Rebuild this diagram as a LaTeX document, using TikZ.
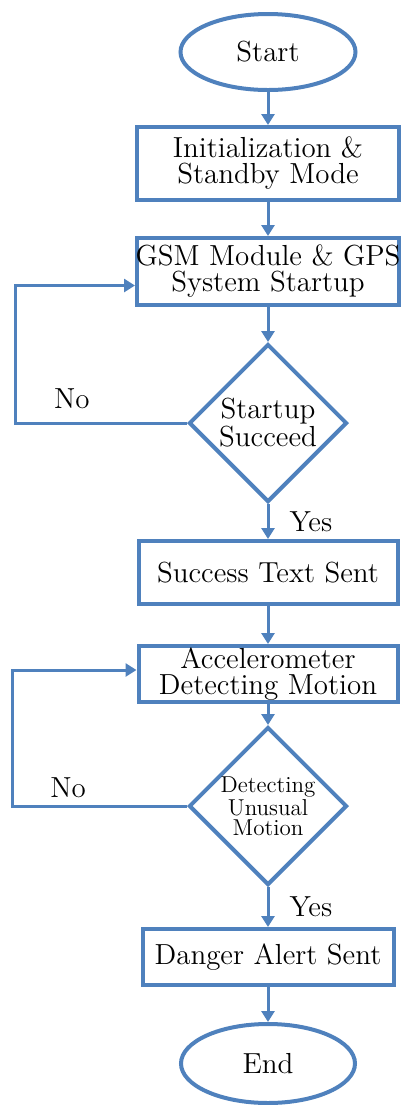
\documentclass[tikz,border=0pt]{standalone}
\usepackage{tikz}
\usetikzlibrary{shapes.geometric, arrows.meta, positioning}
\definecolor{FC_BLUE}{HTML}{4F81BD}
\tikzset{
  term/.style={
    ellipse, draw=FC_BLUE, line width=2pt,
    minimum width=87.5pt, minimum height=38pt, inner sep=0pt,
    font=\fontsize{14.5}{13}\selectfont},
  proc/.style={
    rectangle, draw=FC_BLUE, line width=2pt,
    minimum width=131pt, inner sep=0pt,
    text centered, align=center,
    font=\fontsize{14.5}{13}\selectfont},
  decide/.style={
    diamond, draw=FC_BLUE, line width=2pt,
    minimum width=79pt, minimum height=79pt, inner sep=0pt,
    text centered, align=center,
    font=\fontsize{14.5}{12.5}\selectfont},
  arr/.style={-{Triangle[length=5.5pt,width=6.5pt]}, line width=1.5pt, draw=FC_BLUE},
  lbl/.style={inner sep=0pt, font=\fontsize{14.5}{13}\selectfont},
}

\begin{document}
\begin{tikzpicture}[x=0.5pt, y=-0.5pt]
  \useasboundingbox (0,0) rectangle (402,1105);

  \node[term] (start) at (268,52) {Start};
  \node[proc, minimum height=36.5pt, below=16.5pt of start] (init)
    {Initialization \&\\Standby Mode};
  \node[proc, minimum height=33.5pt, below=17pt of init] (gsm)
    {\makebox[131pt]{GSM Module \& GPS}\\System Startup};
  \node[decide, below=17.5pt of gsm] (chk1) {Startup\\Succeed};
  \node[proc, minimum width=129.5pt, minimum height=31.5pt,
    below=17.5pt of chk1] (sent) {Success Text Sent};
  \node[proc, minimum width=129.5pt, minimum height=28pt,
    below=19pt of sent] (accel) {Accelerometer\\Detecting Motion};
  \node[decide, font=\fontsize{11.5}{10}\selectfont,
    below=10.5pt of accel] (chk2) {Detecting\\Unusual\\Motion};
  \node[proc, minimum width=125.5pt, minimum height=28pt,
    below=20pt of chk2] (alert) {Danger Alert Sent};
  \node[term, minimum width=87pt, minimum height=39.5pt,
    below=17.5pt of alert] (stop) {End};

  \draw[arr] (start) -- (init);
  \draw[arr] (init) -- (gsm);
  \draw[arr] (gsm) -- (chk1);
  \draw[arr] (chk1) -- node[lbl, right=10pt]{Yes} (sent);
  \draw[arr] (sent) -- (accel);
  \draw[arr] (accel) -- (chk2);
  \draw[arr] (chk2) -- node[lbl, right=10pt]{Yes} (alert);
  \draw[arr] (alert) -- (stop);

  % back loops
  \draw[arr] (chk1.west) -- node[lbl, pos=0.67, above=6.5pt]{No}
    ++(-86pt,0) |- ([yshift=-7pt]gsm.west);
  \draw[arr] (chk2.west) -- node[lbl, pos=0.68, above=3.5pt]{No}
    ++(-87.5pt,0) |- ([yshift=2pt]accel.west);

\end{tikzpicture}
\end{document}
